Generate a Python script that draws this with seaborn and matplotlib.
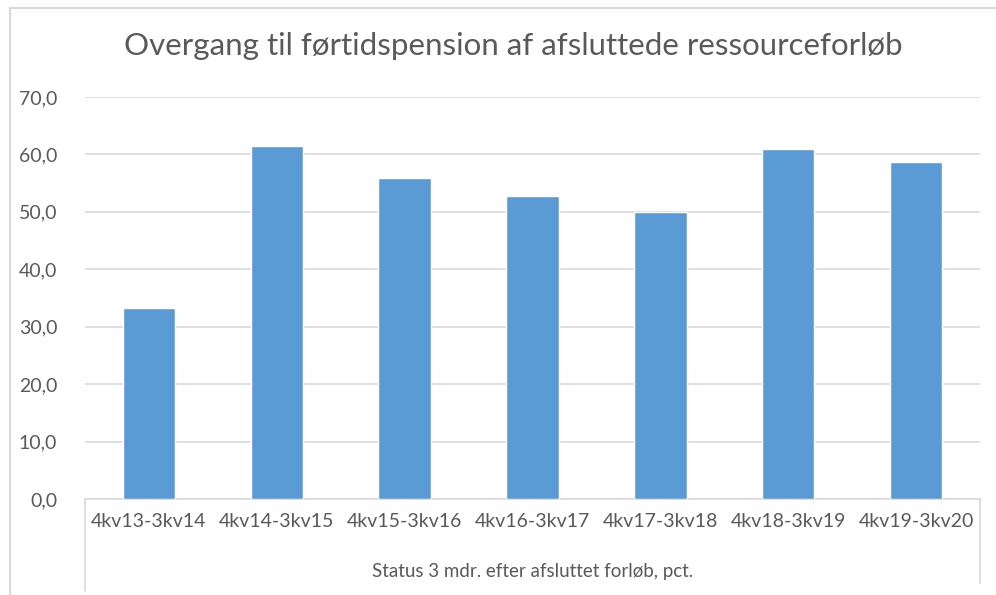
import matplotlib
matplotlib.use('Agg')
import matplotlib.pyplot as plt
import matplotlib.transforms as mtransforms
from matplotlib.patches import Rectangle
import seaborn as sns

sns.set_style('white')
plt.rcParams['font.family'] = ['Lato', 'DejaVu Sans']

periods = ['4kv13-3kv14', '4kv14-3kv15', '4kv15-3kv16', '4kv16-3kv17',
           '4kv17-3kv18', '4kv18-3kv19', '4kv19-3kv20']
values = [33.3, 61.5, 55.9, 52.7, 49.9, 60.9, 58.7]
yticks = [0, 10, 20, 30, 40, 50, 60, 70]
title = 'Overgang til førtidspension af afsluttede ressourceforløb'
group_label = 'Status 3 mdr. efter afsluttet forløb, pct.'

txt = '#595959'
grid = '#d9d9d9'

fig = plt.figure(figsize=(9.96, 5.95), dpi=100)
ax = fig.add_axes([85/996, 96/595, 895/996, 402/595])

sns.barplot(x=periods, y=values, color='#5B9BD5', saturation=1, width=0.41, ax=ax, zorder=3)

ax.set_ylim(0, 70)
ax.set_xlim(-0.5, len(periods) - 0.5)
ax.set_yticks(yticks)
ax.set_yticklabels(['%d,0' % v for v in yticks], color=txt, fontsize=14)
ax.tick_params(axis='y', length=0, pad=20)
ax.tick_params(axis='x', length=0, pad=10, labelsize=14, labelcolor=txt)
ax.yaxis.grid(True, color=grid, linewidth=1.2, zorder=0)
ax.set_axisbelow(True)
for s in ['top', 'right', 'left']:
    ax.spines[s].set_visible(False)
ax.spines['bottom'].set_color(grid)
ax.spines['bottom'].set_linewidth(1.2)
ax.set_xlabel('')
ax.set_ylabel('')

# multi-level category axis box
trans = mtransforms.blended_transform_factory(ax.transData, ax.transAxes)
ax.plot([-0.5, -0.5], [0, -0.23], transform=trans, color=grid, lw=1.2, clip_on=False)
ax.plot([len(periods) - 0.5] * 2, [0, -0.21], transform=trans, color=grid, lw=1.2, clip_on=False)
ax.text(0.5, -0.18, group_label, transform=ax.transAxes, ha='center', va='center',
        fontsize=13.5, color=txt)

fig.text(0.515, 1 - 46/595, title, ha='center', va='center', fontsize=22.5,
         color=txt)

fig.patches.append(Rectangle((10/996, -0.05), 1.1, 1 - 8/595 + 0.05, transform=fig.transFigure,
                             fill=False, edgecolor=grid, lw=1.5))

plt.savefig('out.png', dpi=100)
